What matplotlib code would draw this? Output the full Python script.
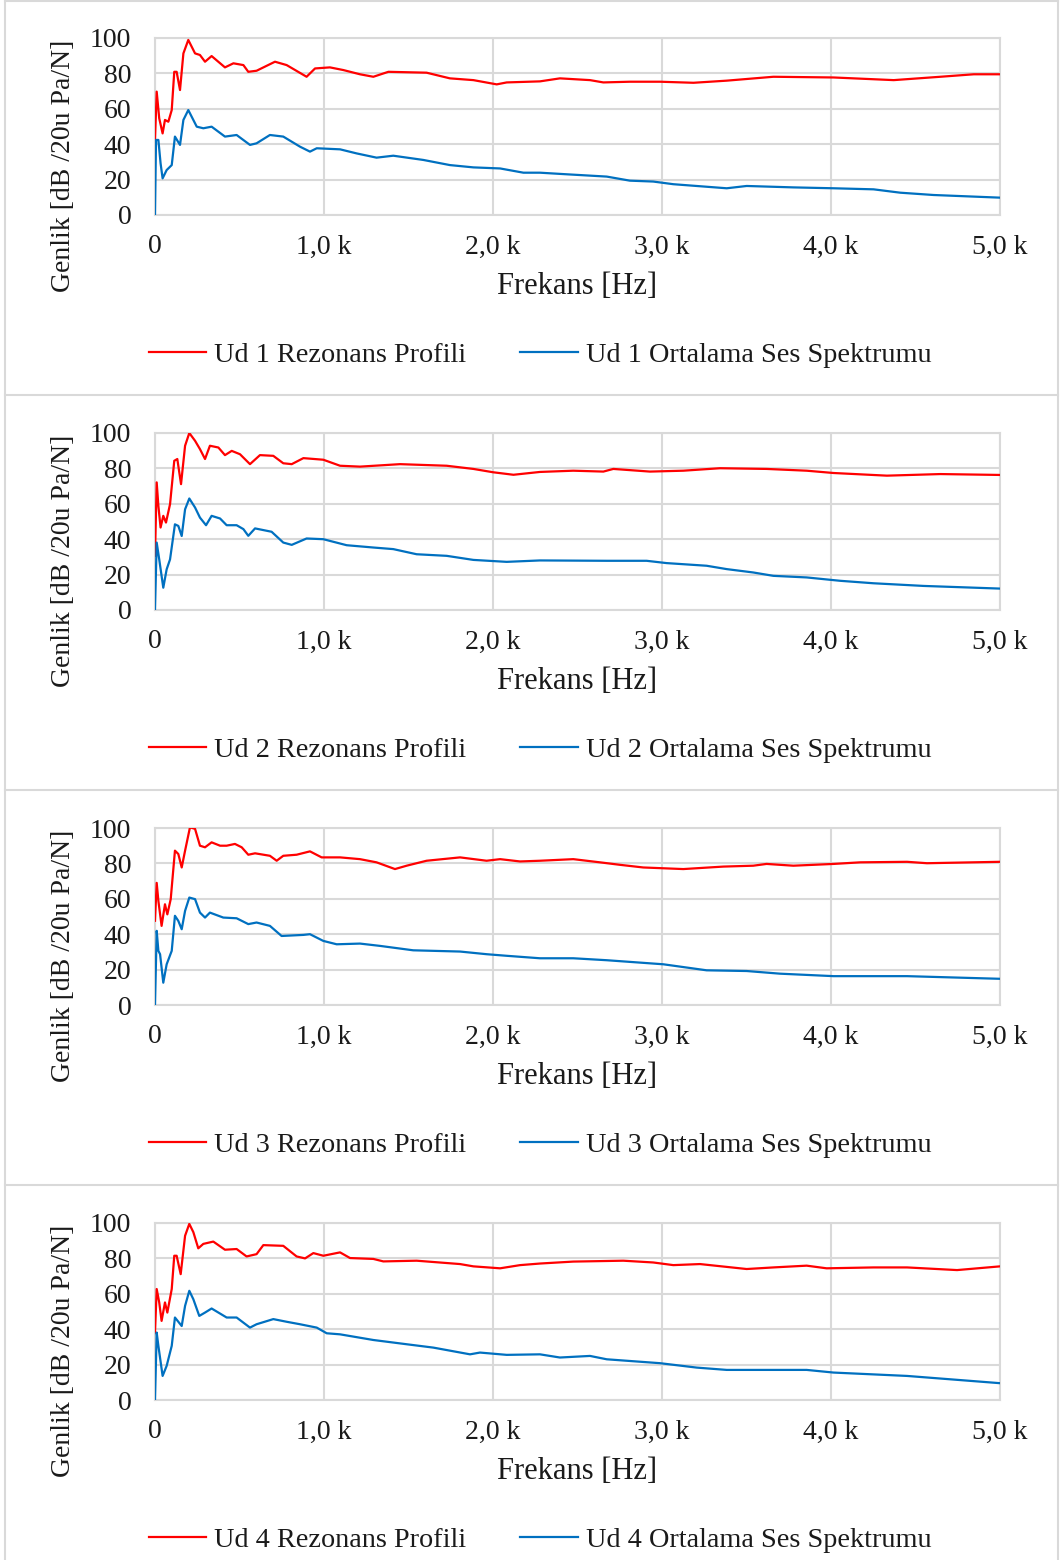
import matplotlib
matplotlib.use("Agg")
import matplotlib.pyplot as plt
from matplotlib.lines import Line2D

plt.rcParams['font.family'] = ['Liberation Serif', 'DejaVu Serif']

# ---------------- data ----------------
x_ticks = [0, 1000, 2000, 3000, 4000, 5000]
x_tick_labels = ["0", "1,0 k", "2,0 k", "3,0 k", "4,0 k", "5,0 k"]
y_ticks = [0, 20, 40, 60, 80, 100]

ud1_rez_f = [0, 10, 25, 45, 59, 79, 99, 114, 128, 148, 168, 197, 237, 266, 296, 335, 414, 464, 523, 552, 601, 710, 779, 897, 947, 1035, 1114, 1213, 1292, 1381, 1607, 1745, 1884, 2022, 2081, 2278, 2396, 2574, 2653, 2810, 2988, 3186, 3383, 3659, 4015, 4371, 4647, 4845, 5000]
ud1_rez_v = [42.4, 69.7, 54.6, 46.1, 53.7, 52.7, 59.3, 80.9, 80.9, 70.6, 91.3, 98.9, 91.3, 90.4, 86.6, 89.8, 83.4, 85.7, 84.7, 80.9, 81.5, 86.6, 84.7, 78.1, 82.8, 83.4, 81.9, 79.5, 78.1, 80.9, 80.4, 77.2, 76.2, 73.8, 74.9, 75.5, 77.2, 76.2, 74.9, 75.3, 75.3, 74.7, 75.9, 78.1, 77.7, 76.2, 78.1, 79.5, 79.5]
ud1_ort_f = [0, 6, 20, 33, 45, 69, 99, 118, 148, 168, 197, 247, 286, 335, 414, 483, 562, 601, 680, 759, 858, 917, 957, 1095, 1193, 1311, 1410, 1588, 1745, 1884, 2042, 2180, 2278, 2436, 2673, 2810, 2948, 3067, 3383, 3501, 3777, 4015, 4252, 4410, 4607, 5000]
ud1_ort_v = [0, 42.4, 42.4, 29.2, 20.7, 25.4, 28.2, 44.3, 39.6, 53.7, 59.3, 49.9, 49.0, 49.9, 44.3, 45.2, 39.6, 40.5, 45.2, 44.3, 38.6, 35.8, 37.7, 37.1, 34.8, 32.4, 33.5, 31.1, 28.2, 26.9, 26.3, 23.9, 23.9, 23.0, 21.7, 19.4, 18.9, 17.4, 15.1, 16.4, 15.6, 15.1, 14.5, 12.6, 11.3, 9.8]

ud2_rez_f = [0, 10, 20, 33, 49, 65, 89, 114, 132, 154, 178, 203, 237, 266, 296, 325, 375, 414, 454, 503, 562, 621, 700, 759, 809, 878, 996, 1095, 1213, 1450, 1726, 1884, 2002, 2121, 2278, 2475, 2653, 2712, 2929, 3126, 3343, 3619, 3856, 4015, 4331, 4647, 5000]
ud2_rez_v = [30.6, 72.1, 58.8, 46.6, 53.2, 49.4, 59.8, 84.3, 85.3, 71.1, 92.8, 100.0, 95.6, 90.9, 85.3, 92.8, 91.8, 87.5, 89.9, 88.0, 82.4, 87.5, 87.1, 82.9, 82.4, 85.8, 84.9, 81.5, 81.0, 82.4, 81.5, 79.7, 77.8, 76.4, 78.0, 78.7, 78.2, 79.7, 78.2, 78.7, 80.1, 79.7, 78.7, 77.4, 75.9, 76.8, 76.3]
ud2_ort_f = [0, 10, 25, 49, 69, 89, 118, 138, 158, 178, 203, 237, 266, 302, 335, 385, 424, 483, 523, 552, 592, 690, 759, 809, 897, 996, 1134, 1292, 1410, 1548, 1726, 1884, 2081, 2278, 2673, 2909, 3027, 3264, 3383, 3540, 3659, 3856, 4054, 4252, 4548, 5000]
ud2_ort_v = [0.3, 38.1, 28.6, 12.6, 23.0, 28.6, 48.4, 47.5, 41.8, 56.9, 63.0, 57.9, 52.2, 47.9, 53.2, 51.7, 47.9, 47.9, 45.7, 41.9, 46.1, 44.2, 38.1, 36.8, 40.4, 40.0, 36.6, 35.3, 34.4, 31.5, 30.6, 28.3, 27.2, 28.0, 27.8, 27.8, 26.5, 25.0, 23.1, 21.2, 19.3, 18.4, 16.5, 15.1, 13.6, 12.1]

ud3_rez_f = [0, 10, 20, 39, 59, 73, 93, 118, 138, 158, 178, 207, 237, 266, 296, 335, 385, 424, 473, 513, 552, 592, 680, 720, 759, 838, 917, 986, 1095, 1213, 1311, 1420, 1489, 1607, 1805, 1962, 2042, 2160, 2278, 2475, 2633, 2751, 2889, 3126, 3363, 3540, 3619, 3777, 4015, 4173, 4450, 4568, 5000]
ud3_rez_v = [47.6, 69.0, 58.8, 44.7, 56.9, 51.2, 59.8, 87.2, 85.3, 77.7, 87.2, 100.4, 99.5, 90.0, 89.1, 91.9, 90.0, 90.0, 91.0, 89.1, 84.9, 85.7, 84.3, 81.5, 84.3, 84.9, 86.8, 83.4, 83.4, 82.4, 80.6, 76.8, 78.7, 81.5, 83.4, 81.5, 82.4, 81.1, 81.5, 82.4, 80.6, 79.2, 77.7, 76.8, 78.2, 78.7, 79.7, 78.7, 79.7, 80.6, 80.9, 80.1, 80.9]
ud3_ort_f = [0, 10, 20, 30, 49, 69, 99, 118, 138, 158, 178, 203, 237, 266, 296, 325, 404, 483, 552, 601, 680, 749, 878, 917, 996, 1075, 1213, 1331, 1528, 1805, 1962, 2081, 2278, 2475, 2673, 3008, 3264, 3501, 3698, 4015, 4173, 4450, 5000]
ud3_ort_v = [0, 41.9, 30.6, 28.7, 12.6, 23.0, 30.6, 50.4, 47.5, 42.8, 53.2, 60.7, 59.8, 52.2, 49.4, 52.2, 49.4, 49.0, 45.7, 46.6, 44.7, 39.0, 39.6, 40.0, 36.2, 34.3, 34.7, 33.4, 30.9, 30.2, 28.7, 27.8, 26.4, 26.4, 25.3, 23.0, 19.6, 19.2, 17.7, 16.3, 16.3, 16.3, 14.8]

ud4_rez_f = [0, 10, 25, 39, 59, 73, 99, 114, 128, 152, 178, 203, 227, 256, 286, 345, 414, 483, 542, 601, 641, 759, 838, 888, 937, 996, 1095, 1154, 1292, 1351, 1548, 1805, 1884, 2042, 2160, 2278, 2475, 2771, 2948, 3067, 3225, 3501, 3659, 3856, 3974, 4252, 4450, 4746, 5000]
ud4_rez_v = [38.1, 62.7, 55.1, 44.7, 55.1, 49.4, 62.7, 81.5, 81.5, 71.1, 92.8, 99.5, 94.8, 85.7, 88.2, 89.5, 84.9, 85.3, 81.1, 82.4, 87.5, 87.1, 81.1, 80.0, 83.0, 81.5, 83.4, 80.2, 79.7, 78.3, 78.7, 76.8, 75.5, 74.4, 76.2, 77.1, 78.2, 78.7, 77.7, 76.2, 76.8, 74.0, 74.9, 75.9, 74.4, 74.9, 74.9, 73.4, 75.5]
ud4_ort_f = [0, 10, 20, 45, 69, 99, 118, 134, 158, 178, 203, 227, 262, 296, 335, 424, 483, 562, 601, 700, 779, 858, 957, 1016, 1095, 1292, 1489, 1647, 1864, 1923, 2081, 2278, 2396, 2574, 2673, 2988, 3206, 3383, 3856, 4015, 4450, 5000]
ud4_ort_v = [0, 38.1, 30.6, 13.6, 19.3, 30.6, 46.6, 44.7, 41.8, 53.2, 61.7, 56.9, 47.5, 49.4, 51.7, 46.6, 46.6, 40.9, 42.8, 45.7, 44.2, 42.8, 40.9, 37.7, 37.1, 33.9, 31.5, 29.6, 25.8, 26.8, 25.5, 25.8, 24.0, 24.9, 23.0, 20.8, 18.3, 17.0, 17.0, 15.5, 13.6, 9.5]

panels = [
    ("Ud 1", ud1_rez_f, ud1_rez_v, ud1_ort_f, ud1_ort_v),
    ("Ud 2", ud2_rez_f, ud2_rez_v, ud2_ort_f, ud2_ort_v),
    ("Ud 3", ud3_rez_f, ud3_rez_v, ud3_ort_f, ud3_ort_v),
    ("Ud 4", ud4_rez_f, ud4_rez_v, ud4_ort_f, ud4_ort_v),
]

# ---------------- layout ----------------
W, H = 1060, 1560
fig = plt.figure(figsize=(W / 100, H / 100), dpi=100)
fig.patch.set_facecolor("white")

RED = "#ff0000"
BLUE = "#0070c0"
GRID = "#d9d9d9"
TXT = "#1a1a1a"
PANEL_H = 395

def fx(px):
    return px / W

def fy(py):
    return 1 - py / H

# panel borders
border_kw = dict(color="#d9d9d9", lw=1.5, transform=fig.transFigure)
fig.add_artist(Line2D([fx(5), fx(5)], [fy(1), 0], **border_kw))
fig.add_artist(Line2D([fx(1058), fx(1058)], [fy(1), 0], **border_kw))
for k in range(4):
    yy = fy(1 + k * PANEL_H) if k == 0 else fy(k * PANEL_H)
    fig.add_artist(Line2D([fx(5), fx(1058)], [yy, yy], **border_kw))

for k, (name, rf, rv, of, ov) in enumerate(panels):
    off = k * PANEL_H
    top, bot = 38 + off, 215 + off
    ax = fig.add_axes([fx(155), fy(bot), fx(1000) - fx(155), (bot - top) / H])
    ax.plot(rf, rv, color=RED, lw=1.6, label=f"{name} Rezonans Profili", zorder=3)
    ax.plot(of, ov, color=BLUE, lw=1.6, label=f"{name} Ortalama Ses Spektrumu", zorder=3)
    ax.set_xlim(0, 5000)
    ax.set_ylim(0, 100)
    ax.set_xticks(x_ticks)
    ax.set_xticklabels(x_tick_labels)
    ax.set_yticks(y_ticks)
    ax.grid(True, color=GRID, lw=1.5)
    ax.set_axisbelow(True)
    for s in ax.spines.values():
        s.set_color(GRID)
        s.set_linewidth(1.5)
    ax.tick_params(axis="both", length=0, labelsize=20, colors=TXT)
    ax.tick_params(axis="y", pad=17)
    ax.tick_params(axis="x", pad=14)
    ax.set_xlabel("Frekans [Hz]", fontsize=22, color=TXT, labelpad=9)
    ax.set_ylabel("Genlik [dB /20u Pa/N]", fontsize=20, color=TXT)
    ax.yaxis.set_label_coords((64 - 155) / (1000 - 155), (215 - 166) / 177)
    ax.yaxis.label.set_va("center")
    fig.legend(handles=ax.get_lines(), loc="center",
               bbox_to_anchor=(fx(540), fy(355 + off)), ncol=2, frameon=False,
               fontsize=20.3, handlelength=2.05, handletextpad=0.28,
               columnspacing=1.9, labelcolor=TXT)

fig.savefig("out.png", dpi=100, facecolor="white")
